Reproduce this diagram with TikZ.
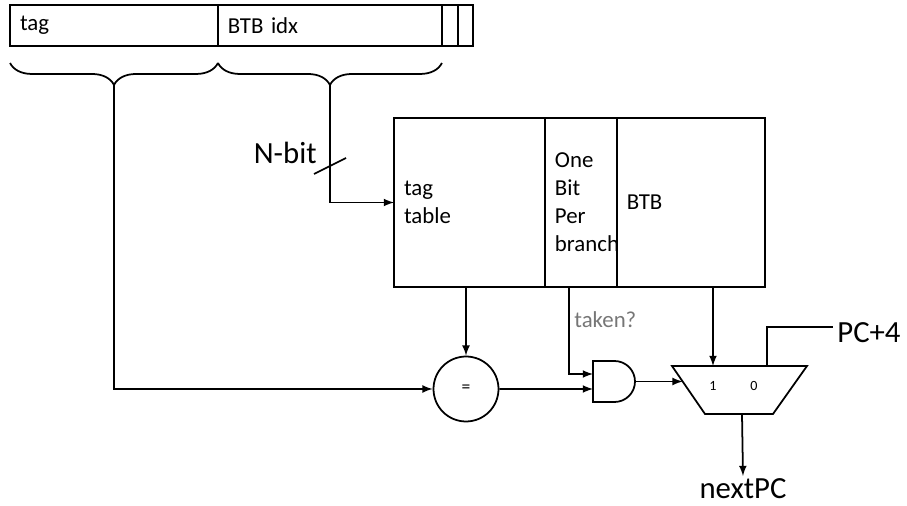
\documentclass[tikz,border=0pt]{standalone}
\usepackage{fontspec}
\setmainfont{Carlito}
\usetikzlibrary{positioning,decorations.pathreplacing,calc}
\definecolor{takengray}{RGB}{118,118,118}

\begin{document}
\begin{tikzpicture}[
    x=0.02cm, y=-0.02cm, line width=1pt, >=latex,
    field/.style = {
      draw, rectangle, outer sep=0pt, inner xsep=0.2cm,
      minimum height=0.82cm, align=left,
      font=\fontsize{13}{15}\selectfont
    },
    column/.style = {
      draw, rectangle, outer sep=0pt, inner xsep=0.2cm,
      minimum height=3.38cm, align=left,
      font=\fontsize{13}{16}\selectfont
    },
    brace/.style = {
      decorate, decoration={brace, amplitude=0.44cm}
    },
    biglabel/.style = {font=\fontsize{17.5}{21}\selectfont, inner sep=2pt}
  ]
  \tikzset{muxnum/.style={font=\fontsize{8}{10}\selectfont, inner sep=1pt}}
  \useasboundingbox (0,0) rectangle (907,506);

  % address fields
  \node[field, text width=3.76cm] (tagf) at (114,25.5) {tag};
  \node[field, text width=4.08cm, right=0pt of tagf] (idxf) {BTB idx};
  \node[field, inner xsep=0pt, minimum width=0.32cm, right=0pt of idxf] (lowa) {};
  \node[field, inner xsep=0pt, minimum width=0.30cm, right=0pt of lowa] (lowb) {};

  \draw[brace] ([yshift=-0.34cm]tagf.south east) -- ([yshift=-0.34cm]tagf.south west);
  \draw[brace] ([yshift=-0.34cm]idxf.south east) -- ([yshift=-0.34cm]idxf.south west);
  \coordinate (tagtip) at ([yshift=-0.78cm]tagf.south);
  \coordinate (idxtip) at ([yshift=-0.78cm]idxf.south);

  % tables
  \node[column, text width=2.62cm] (tagtbl) at (469.5,202.5) {tag\\table};
  \node[column, text width=1.04cm, right=0pt of tagtbl] (bitcol) {One\\Bit\\Per\\branch};
  \node[column, text width=2.56cm, right=0pt of bitcol] (btbcol) {BTB};

  % compare and gate
  \node[draw, circle, minimum size=1.3cm, inner sep=0pt,
        font=\fontsize{10}{12}\selectfont] (eq) at (466,389) {=};
  \node[minimum width=0.84cm, minimum height=0.82cm, inner sep=0pt,
        outer sep=0pt] (andg) at (614,381.5) {};
  \draw (andg.north west) -- ([xshift=-0.41cm]andg.north east)
    arc[start angle=90, end angle=-90, radius=0.41cm] -- (andg.south west) -- cycle;
  \coordinate (andina) at ([yshift=0.15cm]andg.west);
  \coordinate (andinb) at ([yshift=-0.15cm]andg.west);

  % mux
  \coordinate (muxtl) at (672,366);
  \coordinate (muxtr) at (807,366);
  \coordinate (muxbr) at (773,414);
  \coordinate (muxbl) at (705,414);
  \draw (muxtl) -- (muxtr) -- (muxbr) -- (muxbl) -- cycle;
  \node[muxnum] (one) at (713,386) {1};
  \node[muxnum] (zero) at (754,386) {0};
  \coordinate (muxsel) at ($(muxtl)!0.323!(muxbl)$);
  \coordinate (muxzero) at (767,366);
  \coordinate (muxout) at (742,414);

  % labels
  \node[biglabel, anchor=east] (nbit) at (321,153) {N-bit};
  \node[anchor=west, inner sep=2pt, text=takengray,
        font=\fontsize{13}{15}\selectfont] (taken) at (570,320) {taken?};
  \node[biglabel, anchor=west] (pcfour) at (833,333) {PC+4};
  \node[biglabel, anchor=north, inner sep=1pt] (nextpc) at (743,476) {nextPC};

  % wires
  \draw[->] (tagtip) |- (eq.west);
  \draw[->] (idxtip) |- (tagtbl.west);
  \coordinate (nslash) at (330,166);
  \draw ([shift={(-16,8)}]nslash) -- ([shift={(16,-8)}]nslash);
  \draw[->] (eq |- tagtbl.south) -- (eq.north);
  \coordinate (bitout) at ([xshift=-0.24cm]bitcol.south);
  \draw[->] (bitout) |- (andina);
  \draw[->] (eq.east) -- (andinb);
  \draw[->] (andg.east) -- (andg.east -| muxsel);
  \draw[->] (one |- btbcol.south) -- (one |- muxtl);
  \draw (muxzero) |- ([yshift=0.12cm]pcfour.west);
  \draw[->] (muxout) -- (nextpc.north);
\end{tikzpicture}
\end{document}
